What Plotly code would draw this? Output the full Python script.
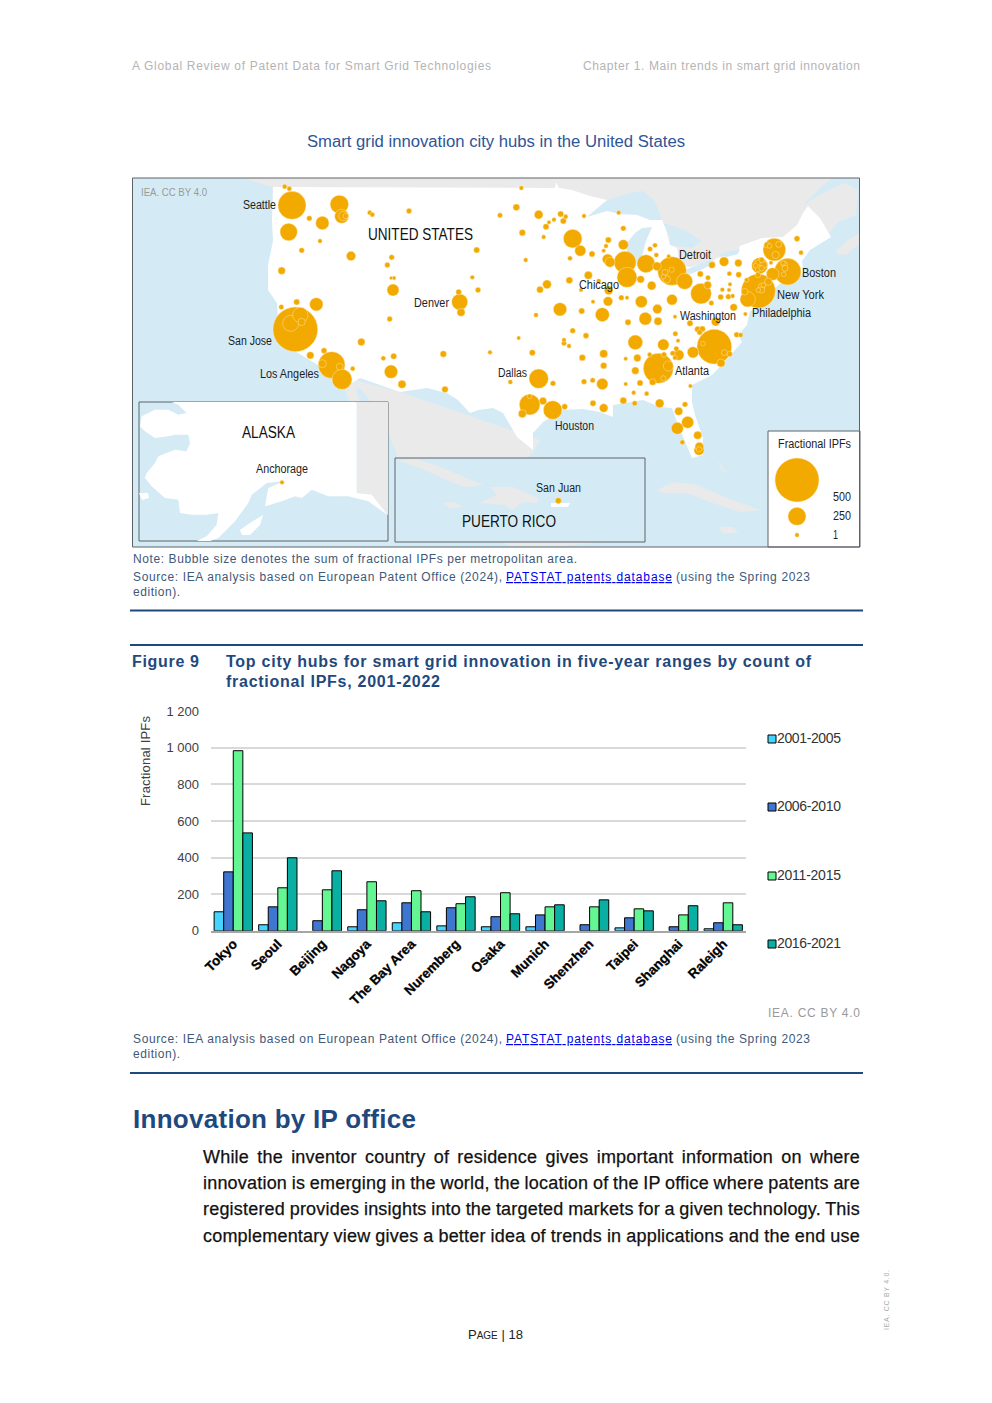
import json
import numpy as np
import plotly.graph_objects as go

# ---------- bar chart data ----------
cities = ["Tokyo","Seoul","Beijing","Nagoya","The Bay Area","Nuremberg","Osaka","Munich","Shenzhen","Taipei","Shanghai","Raleigh"]
y2001_2005 = [104,33,None,22,44,27,22,22,None,16,None,11]
y2006_2010 = [322,131,55,115,153,126,77,87,33,71,22,44]
y2011_2015 = [984,235,224,268,219,148,208,131,131,120,87,153]
y2016_2021 = [535,399,328,164,104,186,93,142,169,109,137,33]
periods = ["2001-2005","2006-2010","2011-2015","2016-2021"]
period_colors = ["#45D3FF","#3F76D0","#64F693","#09AFA2"]
period_values = [y2001_2005,y2006_2010,y2011_2015,y2016_2021]
legend_y = [739,807,876,944]
y_ticks = [0,200,400,600,800,1000,1200]
y_tick_labels = ["0","200","400","600","800","1 000","1 200"]

# ---------- bubble map data: western and eastern hubs (position on the map sheet, bubble diameter) ----------
west_x = [464,478,486,628,635,640,647,538,577,476,570,515,663,837,719,727,1040,785,772,455,783,792,1027,789,1044,986,989,993,500,559,454,779,496,511,482,515,694,582,541,605,577,629,668,636,760,791,783,816,940,1080,945,456]
west_y = [35,41,91,88,124,123,123,130,144,171,198,226,243,108,113,119,225,247,270,287,309,309,307,345,345,351,381,412,381,388,396,432,463,420,445,441,501,527,541,570,566,575,581,613,550,544,590,628,537,532,643,922]
west_d = [14,14,84,55,42,28,16,16,40,52,13,16,28,16,14,14,18,16,16,22,10,12,13,36,16,17,48,24,18,40,15,16,134,46,48,22,22,17,22,80,24,20,14,60,14,18,40,24,19,13,19,13]

east_x = [79,64,15,131,197,212,205,267,371,177,162,153,385,82,146,233,340,385,333,326,256,291,465,480,484,225,92,521,338,345,390,453,486,531,510,530,515,505,569,396,437,470,651,687,730,703,731,616,639,638,618,280,223,311,156,135,341,258,705,682,702,677,700,713,379,396,294,339,439,531,649,195,260,123,322,487,716,751,540,451,489,399,585,662,608,622,614,233,273,71,207,207,222,421,541,549,505,112,326,262,658,594,725,737,688,624,704,544,551,533,540,507,464,392,427,326,678,490,520,505,421,131,46,174,267,293,322,392,435,473,586,416,455,385,419,294,326,494,570,104,104,82,144,173,209,551,578,547,608,562,613,612,612,838,816,824,851,842,906,918,878,868,864,870,866,794,795,805,790,800,782,800,828,833,789,755,790,820,800,790,805,800,749,758,190]
east_y = [39,97,121,119,117,125,138,123,113,134,142,155,160,173,186,191,195,209,213,227,227,237,222,211,240,250,255,244,253,262,262,266,274,288,292,284,313,305,319,307,313,332,270,260,264,296,299,297,308,330,356,301,316,318,328,344,346,345,328,344,345,366,365,363,368,368,380,379,380,374,384,403,408,420,419,402,397,417,425,431,439,442,445,440,463,462,472,467,482,489,495,505,513,502,476,497,509,533,536,548,515,532,479,480,533,506,537,521,540,535,548,539,539,551,549,572,564,580,573,610,587,611,621,625,620,616,627,627,624,621,633,653,656,677,685,685,699,685,688,689,664,716,678,705,695,709,742,760,781,802,815,826,823,224,210,213,208,240,191,233,290,268,264,280,298,272,270,270,280,280,272,255,263,297,300,315,348,320,335,345,330,345,350,373,977]
east_d = [13,20,15,26,18,14,18,13,13,13,12,18,16,19,13,56,18,30,13,12,33,18,15,14,14,14,13,12,32,30,66,54,26,86,18,16,22,14,48,60,22,26,20,28,22,14,17,18,15,23,62,24,20,14,26,20,26,12,12,13,12,17,16,13,16,12,12,28,36,32,15,40,18,14,42,28,22,12,12,38,24,18,18,26,18,18,16,16,17,12,13,15,13,44,15,12,34,18,24,19,104,34,16,14,18,14,16,15,32,15,14,16,14,12,22,19,24,90,30,16,22,58,14,16,16,15,34,12,18,20,12,13,14,20,15,18,26,26,16,62,14,24,22,56,17,24,36,36,24,14,26,30,16,68,18,14,18,22,17,14,80,18,14,18,14,48,34,22,20,16,14,16,12,38,16,14,102,22,20,14,14,18,20,46,18]

size_key_x = [906,906,906]
size_key_y = [915,1024,1080]
size_key_d = [132,54,13]
size_key_labels = ["500","250","1"]

# ---------- base map outlines ----------
canada = [(243,178),(832,178),(818,190),(803,205),(825,192),(845,183),(858,190),(856,215),(838,222),(830,232),(790,260),(700,300),(600,260),(275,200),(272,187),(258,183)]
nova_scotia = [(835,252),(848,240),(860,233),(860,243),(846,255),(838,254)]
mexico = [(347,378),(400,392),(540,440),(533,452),(527,458),(525,470),(400,470),(396,452),(385,425),(373,405),(362,390),(356,386),(358,396),(366,410),(350,402),(343,386)]
usa = [(273,187),(555,188),(556,182),(559,188),(572,190),(590,196),(607,200),(640,199),(662,220),(665,226),(670,245),(677,248),(680,266),(690,267),(713,261),(717,258),(737,253),(740,246),(762,238),(783,237),(797,225),(803,213),(808,206),(820,218),(831,237),(810,250),(802,261),(803,273),(783,281),(773,290),(770,301),(750,311),(747,325),(738,335),(742,342),(728,358),(712,375),(692,385),(692,402),(695,415),(703,438),(703,455),(692,458),(685,442),(677,422),(672,408),(660,407),(643,400),(613,405),(613,417),(600,412),(583,409),(563,410),(543,422),(533,433),(533,450),(517,437),(503,413),(493,408),(478,410),(470,413),(458,400),(447,393),(427,388),(400,392),(360,378),(350,384),(323,368),(307,358),(293,350),(283,345),(278,321),(277,303),(268,290),(268,265),(273,241),(272,221),(273,198)]
superior = [(587,217),(597,208),(607,200),(630,193),(643,191),(655,201),(662,220),(650,220),(637,215),(620,214),(607,211)]
michigan = [(642,228),(652,227),(646,241),(642,256),(637,266),(627,265),(627,243),(635,233)]
huron = [(663,223),(685,230),(702,241),(692,248),(678,246),(670,245),(670,236)]
erie = [(685,270),(710,260),(716,262),(703,269),(688,275)]
ontario = [(717,255),(730,251),(740,249),(738,254),(727,257)]
cuba_east = [(657,490),(673,482),(697,485),(727,498),(760,510),(740,512),(713,503),(687,493),(663,493)]
jamaica_east = [(718,527),(733,527),(738,533),(723,533)]
bahamas = [(717,460),(727,473),(722,470)]
bottom_sliver = [(500,542),(510,546),(565,546),(600,542)]
alaska_frame = [(139,402),(388,402),(388,541),(139,541)]
yukon = [(357,402),(388,402),(388,515),(372,495),(357,493)]
alaska = [(171.7,402),(356.7,402),(356.7,493),(371.7,494.7),(388,515.3),(368.3,501.3),(348.3,496.3),(328.3,496.3),(311.7,489.7),(301.7,498),(295,496.3),(281.7,501.3),(265,506.3),(268.3,488),(283.3,481.3),(266.7,483),(251.7,494.7),(248.3,503),(235,521.3),(218.3,538),(210,541),(196.7,541),(206.7,536.3),(216.7,524.7),(218.3,513),(206.7,514.7),(191.7,514.7),(180,513),(178.3,499.7),(165,498),(151.7,486.3),(145,478),(146.7,473),(155,463),(158.3,456.3),(175,449.7),(186.7,451.3),(190,443),(188.3,434.7),(175,434.7),(168.3,436.3),(155,438),(145,431.3),(140,426.3),(141.7,416.3),(155,409.7),(168.3,409.7),(178.3,414.7),(186.7,413),(178.3,404.7)]
kodiak = [(240,530),(250,523),(263,515),(260,525),(250,535),(242,535)]
st_lawrence = [(139,493),(148,493),(149,498),(142,500)]
pr_frame = [(395,458),(645,458),(645,542),(395,542)]
cuba = [(397,460),(417,459),(440,467),(463,477),(483,485),(465,487),(447,480),(425,470)]
hispaniola = [(490,487),(513,487),(538,498),(537,503),(523,502),(512,510),(505,505),(480,503),(497,495)]
jamaica = [(442,503),(453,502),(462,507),(450,508)]
puerto_rico = [(551,503),(570,503),(568,507),(551,507)]
key_box = [(768,431),(860,431),(860,547),(768,547)]

WATER, LAND, WHITE, ORANGE, FRAME = "#D4EBF5", "#EAEAEA", "#FFFFFF", "#F2A900", "#5F6368"
NAVY, CAPTION, GREY = "#1F497D", "#3E5878", "#B4B4B4"

# The page body keeps its default 8 px margin, so the figure sits inside it
BODY = 8
FIG_W, FIG_H = 992 - 2 * BODY, 1403 - 2 * BODY

fig = go.Figure()

# bars
for name, color, vals in zip(periods, period_colors, period_values):
    fig.add_trace(go.Bar(x=cities, y=vals, name=name, marker=dict(color=color, line=dict(color="black", width=1)),
                         showlegend=False, xaxis="x", yaxis="y"))


def poly(points, fill, line=None):
    xs = [p[0] for p in points] + [points[0][0]]
    ys = [p[1] for p in points] + [points[0][1]]
    fig.add_trace(go.Scatter(x=xs, y=ys, mode="lines", fill="toself", fillcolor=fill,
                             line=dict(color=line or fill, width=1 if line else 0),
                             hoverinfo="skip", showlegend=False, xaxis="x2", yaxis="y2"))


poly([(132,178),(860,178),(860,547),(132,547)], WATER)
for p in (canada, nova_scotia, mexico, cuba_east, jamaica_east, bahamas, bottom_sliver):
    poly(p, LAND)
poly(usa, WHITE)
for p in (superior, michigan, huron, erie, ontario):
    poly(p, WATER)

# hubs
hx = np.array([130 + v / 3 for v in west_x] + [495 + v / 3 for v in east_x])
hy = np.array([175 + v / 3 for v in west_y] + [175 + v / 3 for v in east_y])
hd = np.array([v / 3 for v in west_d] + [v / 3 for v in east_d])


def bubbles(xs, ys, ds):
    order = np.argsort(-ds, kind="stable")
    fig.add_trace(go.Scatter(x=xs[order], y=ys[order], mode="markers",
                             marker=dict(size=ds[order], sizemode="diameter", color=ORANGE,
                                         opacity=1, line=dict(color="rgba(255,235,190,0.75)", width=0.6)),
                             hoverinfo="skip", showlegend=False, xaxis="x2", yaxis="y2"))


# insets first hide the main map, then carry their own land and hubs
inset = (hy > 402) & (hx < 388) | (hy > 458) & (hx > 395) & (hx < 645)
bubbles(hx[~inset], hy[~inset], hd[~inset])
poly(alaska_frame, WATER, FRAME)
poly(yukon, LAND)
poly(alaska, WHITE)
for p in (kodiak, st_lawrence):
    poly(p, WHITE)
poly(pr_frame, WATER, FRAME)
for p in (cuba, hispaniola, jamaica):
    poly(p, LAND)
poly(puerto_rico, WHITE)
bubbles(hx[inset], hy[inset], hd[inset])
poly(key_box, WHITE, FRAME)
bubbles(np.array([495 + v / 3 for v in size_key_x]), np.array([175 + v / 3 for v in size_key_y]),
        np.array([v / 3 for v in size_key_d]))

# period key
fig.add_trace(go.Scatter(x=[772] * 4, y=legend_y, mode="markers",
                         marker=dict(symbol="square", size=8, color=period_colors, line=dict(color="black", width=1)),
                         hoverinfo="skip", showlegend=False, xaxis="x2", yaxis="y2"))

notes = []
widths = []


def label(text, x, y, size, color, width=None, mode="s", bold=False, family="Liberation Sans", angle=0):
    notes.append(dict(text=f"<b>{text}</b>" if bold else text, x=x, y=y, xref="x2", yref="y2",
                      xanchor="center" if angle else "left", yanchor="middle", align="left",
                      showarrow=False, borderpad=0, borderwidth=0, textangle=angle,
                      font=dict(family=family, size=size, color=color)))
    widths.append([width, mode])


# page furniture
label("A Global Review of Patent Data for Smart Grid Technologies", 132, 66, 12, GREY, 359)
label("Chapter 1. Main trends in smart grid innovation", 583, 66, 12, GREY, 277)
label("Smart grid innovation city hubs in the United States", 307, 141, 16, "#2F5597", 378, "g")
label("Note: Bubble size denotes the sum of fractional IPFs per metropolitan area.", 132.5, 558.5, 12, CAPTION, 444)
for y in (577, 1039):
    label("Source: IEA analysis based on European Patent Office (2024),", 132.5, y, 12, CAPTION, 369)
    label("<u>PATSTAT patents database</u>", 506, y, 12, "#0000EE", 166)
    label("(using the Spring 2023", 676, y, 12, CAPTION, 134)
    label("edition).", 132.5, y + 15, 12, CAPTION, 47)
label("Figure 9", 132, 661, 16, NAVY, 67, bold=True)
label("Top city hubs for smart grid innovation in five-year ranges by count of", 226, 661, 16, NAVY, 585, bold=True)
label("fractional IPFs, 2001-2022", 226, 681, 16, NAVY, 214, bold=True)
label("IEA. CC BY 4.0", 768, 1013, 12, "#9A9A9A", 92)
label("Innovation by IP office", 133, 1119, 26, NAVY, 283, bold=True)
for text, y in [("While the inventor country of residence gives important information on where", 1157),
                ("innovation is emerging in the world, the location of the IP office where patents are", 1183),
                ("registered provides insights into the targeted markets for a given technology. This", 1209),
                ("complementary view gives a better idea of trends in applications and the end use", 1236)]:
    label(text, 203, y, 18, "#111111", 657, "w")
label('P<span style="font-size:10px">AGE</span> | 18', 468, 1334, 13, "#222222")
label("IEA. CC BY 4.0.", 886, 1305, 7, "#AAAAAA", 60, angle=-90)
label("Fractional IPFs", 145, 762, 13, "#404040", 90, angle=-90)

# period key text
for name, y in zip(periods, legend_y):
    label(name, 777, y - 1, 14, "#333333", 64)

# map text
LBL = "#1E1E1E"
label("IEA. CC BY 4.0", 141, 192, 11, "#9A9A9A", 66, "g")
for text, x, y, w in [("Seattle",243,205,33),("Detroit",679,255,32),("Boston",802,273,34),("Chicago",579,285,40),
                      ("New York",777,295,47),("Denver",414,303,35),("Washington",680,316,56),("Philadelphia",752,313,59),
                      ("San Jose",228,341,44),("Atlanta",675,371,34),("Los Angeles",260,374,59),("Dallas",498,373,29),
                      ("Houston",555,426,39),("Anchorage",256,469,52),("San Juan",536,488,45),("Fractional IPFs",778,444,73)]:
    label(text, x, y, 12, LBL, w, "g")
label("UNITED STATES", 368, 234, 17, "#111111", 105, "g")
label("ALASKA", 242, 432, 16, "#111111", 53, "g")
label("PUERTO RICO", 462, 521, 16, "#111111", 94, "g")
for text, y, w in zip(size_key_labels, [497, 516, 535], [18, 18, 5]):
    label(text, 833, y, 12, LBL, w, "g")

rules = [dict(type="line", xref="x2", yref="y2", x0=130, x1=863, y0=y, y1=y, line=dict(color=NAVY, width=2)) for y in (610.5, 645, 1073)]
rules.append(dict(type="rect", xref="x2", yref="y2", x0=132.5, x1=859.5, y0=178, y1=547, line=dict(color=FRAME, width=1), layer="above"))


def px(x):
    return (x - BODY) / FIG_W


def py(y):
    return 1 - (y - BODY) / FIG_H


fig.update_layout(
    width=FIG_W, height=FIG_H, autosize=False, margin=dict(l=0, r=0, t=0, b=0, pad=0, autoexpand=False),
    paper_bgcolor="white", plot_bgcolor="rgba(0,0,0,0)", showlegend=False,
    font=dict(family="Liberation Sans"),
    barmode="group", bargap=0.14, bargroupgap=0,
    annotations=notes, shapes=rules,
    xaxis=dict(domain=[px(211), px(745.5)], anchor="y", type="category", showgrid=False, showline=True,
               linecolor="#A6A6A6", linewidth=2, ticks="", tickangle=-45, ticklabelstandoff=-2,
               tickfont=dict(family="Liberation Sans", size=13.5, color="black", weight="bold"), fixedrange=True),
    yaxis=dict(domain=[py(930.8), py(711)], anchor="x", range=[0, 1201], tickvals=y_ticks, ticktext=y_tick_labels,
               showgrid=True, gridcolor="#D9D9D9", gridwidth=2, zeroline=False, ticks="",
               tickfont=dict(family="Liberation Sans", size=13, color="#404040"), ticklabelstandoff=11, fixedrange=True),
    xaxis2=dict(domain=[0, 1], range=[BODY, 992 - BODY], anchor="y2", visible=False, fixedrange=True),
    yaxis2=dict(domain=[0, 1], range=[1403 - BODY, BODY], anchor="x2", visible=False, fixedrange=True),
)

script = """
var W=%s;
document.querySelectorAll('.annotation-text').forEach(function(t,i){
  var w=W[i]; if(!w||!w[0]) return;
  if(w[1]==='w'){
    t.style.letterSpacing='0.2px';
    var n=(t.textContent.match(/ /g)||[]).length;
    var cur=t.getComputedTextLength();
    t.style.wordSpacing=((w[0]-cur)/n)+'px';
    t.style.stroke='#111111'; t.style.strokeWidth='0.25px';
  } else {
    t.setAttribute('textLength',w[0]);
    t.setAttribute('lengthAdjust',w[1]==='g'?'spacingAndGlyphs':'spacing');
  }
});
document.querySelectorAll('.xtick text').forEach(function(t){
  t.style.stroke='#000000'; t.style.strokeWidth='0.3px';
});
""" % json.dumps(widths)

fig.write_html("out.html", post_script=script, config=dict(displayModeBar=False))
